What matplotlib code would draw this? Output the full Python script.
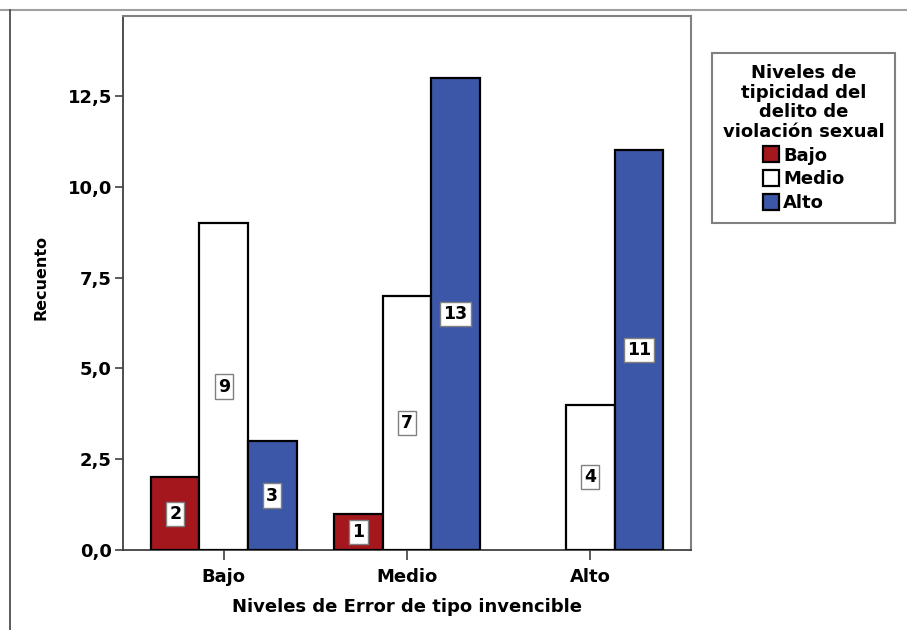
import numpy as np
from matplotlib import pyplot as plt
from matplotlib.lines import Line2D

plt.rcParams['font.family'] = ['DejaVu Sans']
plt.rcParams['font.weight'] = 'bold'

categories = ["Bajo", "Medio", "Alto"]
series_names = ["Bajo", "Medio", "Alto"]
val_bajo = [2, 1, 0]
val_medio = [9, 7, 4]
val_alto = [3, 13, 11]
yticks = [0, 2.5, 5, 7.5, 10, 12.5]
yticklabels = ["0,0", "2,5", "5,0", "7,5", "10,0", "12,5"]

colors = ["#a3171d", "#ffffff", "#3d57a8"]
WIDTH = 0.265

fig = plt.figure(figsize=(9.07, 6.30), dpi=100)
ax = fig.add_axes([123/907, 1 - 550/630, (691-123)/907, (550-16)/630])

x = np.arange(len(categories))
for i, (vals, c, name) in enumerate(zip([val_bajo, val_medio, val_alto], colors, series_names)):
    pos = x + (i - 1) * WIDTH
    for p, v in zip(pos, vals):
        if v == 0:
            continue
        ax.bar(p, v, width=WIDTH, color=c, edgecolor="black", linewidth=1.6, zorder=3)
        ax.text(p, v / 2, str(v), ha="center", va="center", fontsize=12.5, fontweight="bold", zorder=4,
                bbox=dict(boxstyle="square,pad=0.18", facecolor="white", edgecolor="#808080", linewidth=1.0))

ax.set_xlim(-0.55, 2.55)
ax.set_ylim(0, 14.7)
ax.set_xticks(x)
ax.set_xticklabels(categories, fontsize=13, fontweight="bold")
ax.set_yticks(yticks)
ax.set_yticklabels(yticklabels, fontsize=13, fontweight="bold")
ax.tick_params(axis="y", length=6, width=1.2, color="#404040", pad=2)
ax.tick_params(axis="x", length=7, width=1.2, color="#404040", pad=6)

for s in ["left", "bottom"]:
    ax.spines[s].set_color("#404040")
    ax.spines[s].set_linewidth(1.3)
for s in ["top", "right"]:
    ax.spines[s].set_color("#808080")
    ax.spines[s].set_linewidth(1.5)

ax.set_ylabel("Recuento", fontsize=11.5, fontweight="bold")
ax.yaxis.set_label_coords(-0.132, 0.51)
ax.set_xlabel("Niveles de Error de tipo invencible", fontsize=13, fontweight="bold")
ax.xaxis.set_label_coords(0.5, -0.09)

handles = [plt.Rectangle((0, 0), 1, 1, facecolor=c, edgecolor="black", linewidth=1.6) for c in colors]
leg = ax.legend(handles, series_names, title="Niveles de\ntipicidad del\ndelito de\nviolación sexual",
                loc="upper left", bbox_to_anchor=(712/907, 1 - 53/630), bbox_transform=fig.transFigure,
                alignment="center", fancybox=False, edgecolor="#808080", framealpha=1,
                prop=dict(size=13, weight="bold"), title_fontproperties=dict(size=13, weight="bold"),
                handlelength=0.9, handleheight=1.0, handletextpad=0.2, labelspacing=0.3,
                borderpad=0.6, borderaxespad=0)
leg.get_frame().set_linewidth(1.5)
leg.get_title().set_multialignment("center")
leg.get_title().set_linespacing(1.12)
leg._legend_handle_box.sep = 8

# outer frame of the exported figure
fig.add_artist(Line2D([0, 1], [1 - 10/630, 1 - 10/630], transform=fig.transFigure, color="#a0a0a0", linewidth=1.5))
fig.add_artist(Line2D([10/907, 10/907], [0, 1 - 10/630], transform=fig.transFigure, color="#404040", linewidth=1.2))

plt.savefig("out.png", dpi=100)
